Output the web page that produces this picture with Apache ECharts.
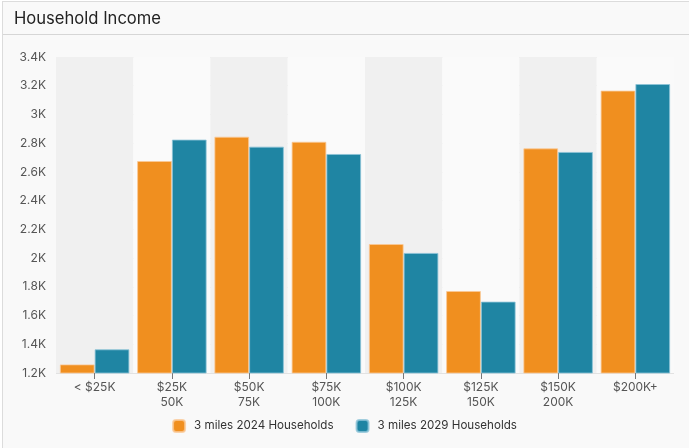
<!DOCTYPE html>
<html>
<head>
<meta charset="utf-8">
<script src="https://cdn.jsdelivr.net/npm/echarts@6/dist/echarts.min.js"></script>
<style>
html,body{margin:0;padding:0;background:#ffffff;}
#card{position:absolute;left:2px;top:1px;width:687px;height:447px;box-sizing:border-box;border-left:1px solid #dcdcdc;border-top:1px solid #dcdcdc;background:#f9f9f9;}
#chart{width:689px;height:448px;position:absolute;left:0;top:0;}
</style>
</head>
<body>
<div id="card"></div>
<div id="chart"></div>
<script>
const categories = ['< $25K', '$25K\n50K', '$50K\n75K', '$75K\n100K', '$100K\n125K', '$125K\n150K', '$150K\n200K', '$200K+'];
const seriesNames = ['3 miles 2024 Households', '3 miles 2029 Households'];
const households2024 = [1260, 2676, 2845, 2810, 2098, 1771, 2764, 3166];
const households2029 = [1365, 2825, 2776, 2725, 2036, 1697, 2739, 3212];
const yTicks = {min: 1200, max: 3400, interval: 200};

const chart = echarts.init(document.getElementById('chart'), null, {renderer: 'canvas'});
const font = 'Inter, Roboto, "Noto Sans", sans-serif';
chart.setOption({
  backgroundColor: 'transparent',
  textStyle: {fontFamily: font},
  title: {
    text: 'Household Income',
    left: 9, top: 5,
    textStyle: {fontSize: 16.6, fontWeight: 'normal', color: '#222', fontFamily: font}
  },
  graphic: [{
    type: 'line', shape: {x1: 3, y1: 34.5, x2: 689, y2: 34.5},
    style: {stroke: '#d6d6d6', lineWidth: 1}, silent: true
  }],
  legend: {
    top: 414, left: 'center',
    itemWidth: 12, itemHeight: 12, itemGap: 22,
    icon: 'roundRect',
    textStyle: {fontSize: 11.6, color: '#333', fontFamily: font, padding: [0, 0, 0, 4]},
    data: seriesNames
  },
  grid: {left: 56, right: 15, top: 57, bottom: 75, containLabel: false},
  xAxis: {
    type: 'category',
    data: categories,
    axisLine: {show: false},
    axisTick: {show: true, alignWithLabel: true, length: 6, lineStyle: {color: '#777'}},
    axisLabel: {fontSize: 12, color: '#555', lineHeight: 15, margin: 7, fontFamily: font},
    splitArea: {show: true, areaStyle: {color: ['#f0f0f0', '#fafafa']}}
  },
  yAxis: {
    type: 'value',
    min: yTicks.min, max: yTicks.max, interval: yTicks.interval,
    axisLine: {show: false},
    axisTick: {show: false},
    axisLabel: {
      fontSize: 12, color: '#555', margin: 10, fontFamily: font,
      formatter: v => (v / 1000) + 'K'
    },
    splitLine: {lineStyle: {color: '#e2e2e2', width: 1}}
  },
  series: [
    {
      name: seriesNames[0], type: 'bar', data: households2024,
      barGap: '0%', barCategoryGap: '10%',
      itemStyle: {color: '#f08f1f', borderColor: 'rgba(250,200,150,0.8)', borderWidth: 1}
    },
    {
      name: seriesNames[1], type: 'bar', data: households2029,
      barGap: '0%', barCategoryGap: '10%',
      itemStyle: {color: '#1f85a3', borderColor: 'rgba(140,195,215,0.8)', borderWidth: 1}
    }
  ]
});
</script>
</body>
</html>
